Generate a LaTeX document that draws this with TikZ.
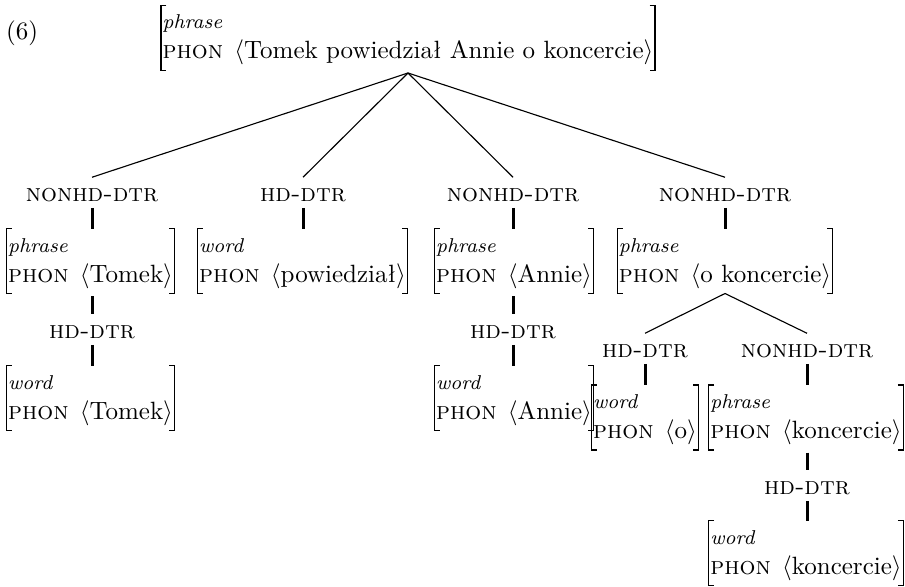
\documentclass[tikz,border=0pt]{standalone}
\usepackage{fontspec}
\usetikzlibrary{calc}

% feature structure: sort on the first line, PHON value on the second
\newcommand{\fstruct}[2]{\begin{tabular}{@{}l@{}}{\footnotesize\itshape #1}\\\textsc{phon}\hspace{4.5pt}$\langle$#2$\rangle$\end{tabular}}

\tikzset{
  avmn/.style={inner xsep=0.7pt, inner ysep=1pt, outer sep=0pt},
  dtr/.style={font=\scshape, inner xsep=0pt, inner ysep=4.4pt, text height=5pt, text depth=0pt},
  branch/.style={line width=0.45pt},
  attr/.style={line width=1.2pt},
  brk/.style={line width=0.5pt},
}

\begin{document}
\begin{tikzpicture}[x=0.4pt, y=-0.4pt]
\useasboundingbox (0,0) rectangle (905,586);

\node (ex) at (22,33) {(6)};

% mother
\node[avmn] (top) at (408,38) {\fstruct{phrase}{Tomek powiedział Annie o koncercie}};

% daughter labels
\node[dtr] (n1) at (92,195)  {nonhd-dtr};
\node[dtr] (n2) at (303,195) {hd-dtr};
\node[dtr] (n3) at (513,195) {nonhd-dtr};
\node[dtr] (n4) at (725,195) {nonhd-dtr};

% daughters
\node[avmn] (a1) at (90.5,261) {\fstruct{phrase}{Tomek}};
\node[avmn] (a2) at (302.5,261) {\fstruct{word}{powiedział}};
\node[avmn] (a3) at (514,261) {\fstruct{phrase}{Annie}};
\node[avmn] (a4) at (725,261) {\fstruct{phrase}{o koncercie}};

% unary heads
\node[dtr] (h1) at (92,332)  {hd-dtr};
\node[avmn] (b1) at (90.5,398) {\fstruct{word}{Tomek}};
\node[dtr] (h3) at (513,332) {hd-dtr};
\node[avmn] (b3) at (514,398) {\fstruct{word}{Annie}};

% PP
\node[dtr] (h4) at (645,351) {hd-dtr};
\node[dtr] (n5) at (807,351) {nonhd-dtr};
\node[avmn] (c1) at (645,417.5) {\fstruct{word}{o}};
\node[avmn] (c2) at (806,417.5) {\fstruct{phrase}{koncercie}};
\node[dtr] (h5) at (807,488) {hd-dtr};
\node[avmn] (d1) at (806,553) {\fstruct{word}{koncercie}};

% square brackets round every feature structure
\foreach \n in {top,a1,a2,a3,a4,b1,b3,c1,c2,d1} {
  \draw[brk] ([xshift=2.2pt]\n.north west) -- (\n.north west) -- (\n.south west) -- ++(2.2pt,0);
  \draw[brk] ([xshift=-2.2pt]\n.north east) -- (\n.north east) -- (\n.south east) -- ++(-2.2pt,0);
}

% branches
\foreach \d in {n1,n2,n3,n4} \draw[branch] ([yshift=-1pt]top.south) -- (\d.north);
\foreach \d in {h4,n5} \draw[branch] (a4.south) -- (\d.north);

% attribute paths
\foreach \l/\f in {n1/a1,n2/a2,n3/a3,n4/a4,h1/b1,h3/b3,h4/c1,n5/c2,h5/d1}
  \draw[attr, shorten <=-2pt] (\l.south) -- (\l.south |- \f.north);
\foreach \f/\l in {a1/h1,a3/h3,c2/h5}
  \draw[attr, shorten <=1pt] (\l.north |- \f.south) -- (\l.north);
\end{tikzpicture}
\end{document}
